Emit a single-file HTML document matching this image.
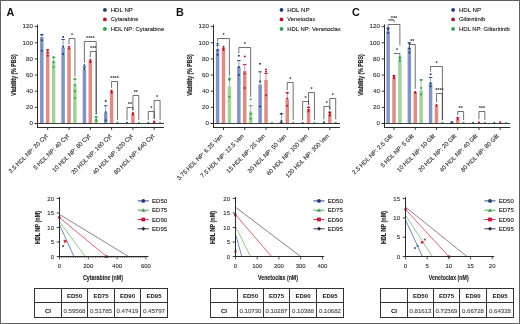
<!DOCTYPE html>
<html><head><meta charset="utf-8"><style>
html,body{margin:0;padding:0;background:#fff;}
body{width:520px;height:324px;overflow:hidden;}
svg{display:block;font-family:"Liberation Sans", sans-serif;will-change:transform;}
</style></head><body>
<svg width="520" height="324" viewBox="0 0 520 324">
<rect x="0" y="0" width="520" height="324" fill="#fff"/>
<text x="6.50" y="15.60" font-size="10.8" text-anchor="start" fill="#111" font-weight="bold">A</text>
<text x="16.20" y="75.00" font-size="6.6" text-anchor="middle" fill="#222" stroke="#222" stroke-width="0.15" font-weight="bold" transform="rotate(-90 16.20 75.00)" textLength="41.5" lengthAdjust="spacingAndGlyphs">Viability (% PBS)</text>
<line x1="37.50" y1="24.50" x2="37.50" y2="128.00" stroke="#2a2a2a" stroke-width="1.0"/>
<line x1="34.70" y1="123.50" x2="37.50" y2="123.50" stroke="#2a2a2a" stroke-width="0.9"/>
<text x="32.90" y="125.30" font-size="6.2" text-anchor="end" fill="#333" stroke="#333" stroke-width="0.12">0</text>
<line x1="34.70" y1="107.35" x2="37.50" y2="107.35" stroke="#2a2a2a" stroke-width="0.9"/>
<text x="32.90" y="109.15" font-size="6.2" text-anchor="end" fill="#333" stroke="#333" stroke-width="0.12">20</text>
<line x1="34.70" y1="91.20" x2="37.50" y2="91.20" stroke="#2a2a2a" stroke-width="0.9"/>
<text x="32.90" y="93.00" font-size="6.2" text-anchor="end" fill="#333" stroke="#333" stroke-width="0.12">40</text>
<line x1="34.70" y1="75.05" x2="37.50" y2="75.05" stroke="#2a2a2a" stroke-width="0.9"/>
<text x="32.90" y="76.85" font-size="6.2" text-anchor="end" fill="#333" stroke="#333" stroke-width="0.12">60</text>
<line x1="34.70" y1="58.90" x2="37.50" y2="58.90" stroke="#2a2a2a" stroke-width="0.9"/>
<text x="32.90" y="60.70" font-size="6.2" text-anchor="end" fill="#333" stroke="#333" stroke-width="0.12">80</text>
<line x1="34.70" y1="42.75" x2="37.50" y2="42.75" stroke="#2a2a2a" stroke-width="0.9"/>
<text x="32.90" y="44.55" font-size="6.2" text-anchor="end" fill="#333" stroke="#333" stroke-width="0.12">100</text>
<line x1="34.70" y1="26.60" x2="37.50" y2="26.60" stroke="#2a2a2a" stroke-width="0.9"/>
<text x="32.90" y="28.40" font-size="6.2" text-anchor="end" fill="#333" stroke="#333" stroke-width="0.12">120</text>
<rect x="40.05" y="37.10" width="3.50" height="86.40" fill="#8393c2"/>
<rect x="45.95" y="51.63" width="3.50" height="71.87" fill="#de8d84"/>
<rect x="51.85" y="60.52" width="3.50" height="62.98" fill="#a2d19a"/>
<line x1="41.80" y1="34.67" x2="41.80" y2="37.10" stroke="#4a5f95" stroke-width="0.6"/>
<line x1="40.05" y1="34.67" x2="43.55" y2="34.67" stroke="#1c3c78" stroke-width="0.9"/>
<circle cx="41.80" cy="34.67" r="1.0" fill="#1c3c78"/>
<circle cx="41.80" cy="40.33" r="1.0" fill="#1c3c78"/>
<circle cx="41.80" cy="50.83" r="1.0" fill="#1c3c78"/>
<line x1="47.70" y1="50.02" x2="47.70" y2="51.63" stroke="#b84a45" stroke-width="0.6"/>
<line x1="45.95" y1="50.02" x2="49.45" y2="50.02" stroke="#b3132b" stroke-width="0.9"/>
<circle cx="47.70" cy="50.02" r="1.0" fill="#b3132b"/>
<circle cx="47.70" cy="52.44" r="1.0" fill="#b3132b"/>
<circle cx="47.70" cy="55.67" r="1.0" fill="#b3132b"/>
<line x1="53.60" y1="57.28" x2="53.60" y2="60.52" stroke="#5a9e55" stroke-width="0.6"/>
<line x1="51.85" y1="57.28" x2="55.35" y2="57.28" stroke="#2f9e4a" stroke-width="0.9"/>
<circle cx="53.60" cy="57.28" r="1.0" fill="#2f9e4a"/>
<circle cx="53.60" cy="62.13" r="1.0" fill="#2f9e4a"/>
<circle cx="53.60" cy="66.97" r="1.0" fill="#2f9e4a"/>
<rect x="61.35" y="47.59" width="3.50" height="75.91" fill="#8393c2"/>
<rect x="67.25" y="47.59" width="3.50" height="75.91" fill="#de8d84"/>
<rect x="73.15" y="84.74" width="3.50" height="38.76" fill="#a2d19a"/>
<line x1="63.10" y1="39.52" x2="63.10" y2="47.59" stroke="#4a5f95" stroke-width="0.6"/>
<line x1="61.35" y1="39.52" x2="64.85" y2="39.52" stroke="#1c3c78" stroke-width="0.9"/>
<circle cx="63.10" cy="37.10" r="1.0" fill="#1c3c78"/>
<circle cx="63.10" cy="46.79" r="1.0" fill="#1c3c78"/>
<circle cx="63.10" cy="54.06" r="1.0" fill="#1c3c78"/>
<circle cx="69.00" cy="46.79" r="1.0" fill="#b3132b"/>
<circle cx="69.00" cy="48.40" r="1.0" fill="#b3132b"/>
<line x1="74.90" y1="79.09" x2="74.90" y2="84.74" stroke="#5a9e55" stroke-width="0.6"/>
<line x1="73.15" y1="79.09" x2="76.65" y2="79.09" stroke="#2f9e4a" stroke-width="0.9"/>
<circle cx="74.90" cy="79.09" r="1.0" fill="#2f9e4a"/>
<circle cx="74.90" cy="84.74" r="1.0" fill="#2f9e4a"/>
<circle cx="74.90" cy="91.20" r="1.0" fill="#2f9e4a"/>
<circle cx="74.90" cy="97.66" r="1.0" fill="#2f9e4a"/>
<rect x="82.65" y="70.20" width="3.50" height="53.30" fill="#8393c2"/>
<rect x="88.55" y="60.52" width="3.50" height="62.98" fill="#de8d84"/>
<rect x="94.45" y="119.46" width="3.50" height="4.04" fill="#a2d19a"/>
<line x1="84.40" y1="66.97" x2="84.40" y2="70.20" stroke="#4a5f95" stroke-width="0.6"/>
<line x1="82.65" y1="66.97" x2="86.15" y2="66.97" stroke="#1c3c78" stroke-width="0.9"/>
<circle cx="84.40" cy="65.36" r="1.0" fill="#1c3c78"/>
<circle cx="84.40" cy="68.59" r="1.0" fill="#1c3c78"/>
<circle cx="84.40" cy="69.40" r="1.0" fill="#1c3c78"/>
<circle cx="90.30" cy="59.71" r="1.0" fill="#b3132b"/>
<circle cx="90.30" cy="61.32" r="1.0" fill="#b3132b"/>
<circle cx="90.30" cy="62.13" r="1.0" fill="#b3132b"/>
<line x1="96.20" y1="117.04" x2="96.20" y2="119.46" stroke="#5a9e55" stroke-width="0.6"/>
<line x1="94.45" y1="117.04" x2="97.95" y2="117.04" stroke="#2f9e4a" stroke-width="0.9"/>
<circle cx="96.20" cy="117.04" r="1.0" fill="#2f9e4a"/>
<circle cx="96.20" cy="119.46" r="1.0" fill="#2f9e4a"/>
<circle cx="96.20" cy="121.08" r="1.0" fill="#2f9e4a"/>
<rect x="103.95" y="113.00" width="3.50" height="10.50" fill="#8393c2"/>
<rect x="109.85" y="91.20" width="3.50" height="32.30" fill="#de8d84"/>
<rect x="115.75" y="123.10" width="3.50" height="0.40" fill="#a2d19a"/>
<line x1="105.70" y1="105.73" x2="105.70" y2="113.00" stroke="#4a5f95" stroke-width="0.6"/>
<line x1="103.95" y1="105.73" x2="107.45" y2="105.73" stroke="#1c3c78" stroke-width="0.9"/>
<circle cx="105.70" cy="100.89" r="1.0" fill="#1c3c78"/>
<circle cx="105.70" cy="112.19" r="1.0" fill="#1c3c78"/>
<circle cx="105.70" cy="120.27" r="1.0" fill="#1c3c78"/>
<circle cx="111.60" cy="90.39" r="1.0" fill="#b3132b"/>
<circle cx="111.60" cy="92.01" r="1.0" fill="#b3132b"/>
<circle cx="111.60" cy="92.81" r="1.0" fill="#b3132b"/>
<circle cx="117.50" cy="122.69" r="1.0" fill="#2f9e4a"/>
<rect x="125.25" y="123.10" width="3.50" height="0.40" fill="#8393c2"/>
<rect x="131.15" y="113.81" width="3.50" height="9.69" fill="#de8d84"/>
<rect x="137.05" y="123.26" width="3.50" height="0.24" fill="#a2d19a"/>
<circle cx="127.00" cy="122.69" r="1.0" fill="#1c3c78"/>
<circle cx="132.90" cy="113.00" r="1.0" fill="#b3132b"/>
<circle cx="132.90" cy="113.81" r="1.0" fill="#b3132b"/>
<circle cx="132.90" cy="114.62" r="1.0" fill="#b3132b"/>
<circle cx="138.80" cy="123.10" r="1.0" fill="#2f9e4a"/>
<rect x="146.55" y="123.10" width="3.50" height="0.40" fill="#8393c2"/>
<rect x="152.45" y="122.29" width="3.50" height="1.21" fill="#de8d84"/>
<rect x="158.35" y="123.26" width="3.50" height="0.24" fill="#a2d19a"/>
<circle cx="148.30" cy="123.10" r="1.0" fill="#1c3c78"/>
<circle cx="154.20" cy="121.48" r="1.0" fill="#b3132b"/>
<circle cx="154.20" cy="122.29" r="1.0" fill="#b3132b"/>
<circle cx="160.10" cy="123.10" r="1.0" fill="#2f9e4a"/>
<line x1="34.70" y1="123.50" x2="164.00" y2="123.50" stroke="#2a2a2a" stroke-width="0.9"/>
<line x1="37.00" y1="127.50" x2="164.00" y2="127.50" stroke="#2a2a2a" stroke-width="1.0"/>
<line x1="47.70" y1="127.50" x2="47.70" y2="130.00" stroke="#2a2a2a" stroke-width="0.9"/>
<text x="48.10" y="136.50" font-size="6.0" text-anchor="end" fill="#333" stroke="#333" stroke-width="0.12" transform="rotate(-45 48.10 136.50)">2.5 HDL NP: 20 Cyt</text>
<line x1="69.00" y1="127.50" x2="69.00" y2="130.00" stroke="#2a2a2a" stroke-width="0.9"/>
<text x="69.40" y="136.50" font-size="6.0" text-anchor="end" fill="#333" stroke="#333" stroke-width="0.12" transform="rotate(-45 69.40 136.50)">5 HDL NP: 40 Cyt</text>
<line x1="90.30" y1="127.50" x2="90.30" y2="130.00" stroke="#2a2a2a" stroke-width="0.9"/>
<text x="90.70" y="136.50" font-size="6.0" text-anchor="end" fill="#333" stroke="#333" stroke-width="0.12" transform="rotate(-45 90.70 136.50)">10 HDL NP: 80 Cyt</text>
<line x1="111.60" y1="127.50" x2="111.60" y2="130.00" stroke="#2a2a2a" stroke-width="0.9"/>
<text x="112.00" y="136.50" font-size="6.0" text-anchor="end" fill="#333" stroke="#333" stroke-width="0.12" transform="rotate(-45 112.00 136.50)">20 HDL NP: 160 Cyt</text>
<line x1="132.90" y1="127.50" x2="132.90" y2="130.00" stroke="#2a2a2a" stroke-width="0.9"/>
<text x="133.30" y="136.50" font-size="6.0" text-anchor="end" fill="#333" stroke="#333" stroke-width="0.12" transform="rotate(-45 133.30 136.50)">40 HDL NP: 320 Cyt</text>
<line x1="154.20" y1="127.50" x2="154.20" y2="130.00" stroke="#2a2a2a" stroke-width="0.9"/>
<text x="154.60" y="136.50" font-size="6.0" text-anchor="end" fill="#333" stroke="#333" stroke-width="0.12" transform="rotate(-45 154.60 136.50)">80 HDL NP: 640 Cyt</text>
<path d="M69.00 44.29V38.50H74.90V76.59" fill="none" stroke="#333" stroke-width="0.7"/>
<text x="71.95" y="37.30" font-size="5.5" text-anchor="middle" fill="#333" font-weight="bold">*</text>
<path d="M84.40 62.86V41.50H96.20V114.54" fill="none" stroke="#333" stroke-width="0.7"/>
<text x="90.30" y="40.30" font-size="5.5" text-anchor="middle" fill="#333" font-weight="bold">****</text>
<path d="M90.30 57.21V51.50H96.20V114.54" fill="none" stroke="#333" stroke-width="0.7"/>
<text x="93.25" y="50.30" font-size="5.5" text-anchor="middle" fill="#333" font-weight="bold">***</text>
<path d="M111.60 87.89V81.50H117.50V120.19" fill="none" stroke="#333" stroke-width="0.7"/>
<text x="114.55" y="80.30" font-size="5.5" text-anchor="middle" fill="#333" font-weight="bold">****</text>
<path d="M127.00 120.19V107.50H132.90V110.50" fill="none" stroke="#333" stroke-width="0.7"/>
<text x="129.95" y="106.30" font-size="5.5" text-anchor="middle" fill="#333" font-weight="bold">**</text>
<path d="M132.90 110.50V95.50H138.80V120.19" fill="none" stroke="#333" stroke-width="0.7"/>
<text x="135.85" y="94.30" font-size="5.5" text-anchor="middle" fill="#333" font-weight="bold">**</text>
<path d="M148.30 120.19V111.50H154.20V118.98" fill="none" stroke="#333" stroke-width="0.7"/>
<text x="151.25" y="110.30" font-size="5.5" text-anchor="middle" fill="#333" font-weight="bold">*</text>
<path d="M154.20 118.98V100.50H160.10V120.19" fill="none" stroke="#333" stroke-width="0.7"/>
<text x="157.15" y="99.30" font-size="5.5" text-anchor="middle" fill="#333" font-weight="bold">*</text>
<circle cx="104.90" cy="9.90" r="1.9" fill="#1c3c78"/>
<text x="110.70" y="11.80" font-size="6.0" text-anchor="start" fill="#1a1a1a" stroke="#1a1a1a" stroke-width="0.12" textLength="22.2" lengthAdjust="spacingAndGlyphs">HDL NP</text>
<circle cx="104.90" cy="19.40" r="1.9" fill="#b3132b"/>
<text x="110.70" y="21.30" font-size="6.0" text-anchor="start" fill="#1a1a1a" stroke="#1a1a1a" stroke-width="0.12" textLength="27.7" lengthAdjust="spacingAndGlyphs">Cytarabine</text>
<circle cx="104.90" cy="28.90" r="1.9" fill="#2f9e4a"/>
<text x="110.70" y="30.80" font-size="6.0" text-anchor="start" fill="#1a1a1a" stroke="#1a1a1a" stroke-width="0.12" textLength="53.5" lengthAdjust="spacingAndGlyphs">HDL NP: Cytarabine</text>
<text x="175.90" y="15.60" font-size="10.8" text-anchor="start" fill="#111" font-weight="bold">B</text>
<text x="192.10" y="75.00" font-size="6.6" text-anchor="middle" fill="#222" stroke="#222" stroke-width="0.15" font-weight="bold" transform="rotate(-90 192.10 75.00)" textLength="41.5" lengthAdjust="spacingAndGlyphs">Viability (% PBS)</text>
<line x1="213.50" y1="24.50" x2="213.50" y2="128.00" stroke="#2a2a2a" stroke-width="1.0"/>
<line x1="210.70" y1="123.50" x2="213.50" y2="123.50" stroke="#2a2a2a" stroke-width="0.9"/>
<text x="208.90" y="125.30" font-size="6.2" text-anchor="end" fill="#333" stroke="#333" stroke-width="0.12">0</text>
<line x1="210.70" y1="107.35" x2="213.50" y2="107.35" stroke="#2a2a2a" stroke-width="0.9"/>
<text x="208.90" y="109.15" font-size="6.2" text-anchor="end" fill="#333" stroke="#333" stroke-width="0.12">20</text>
<line x1="210.70" y1="91.20" x2="213.50" y2="91.20" stroke="#2a2a2a" stroke-width="0.9"/>
<text x="208.90" y="93.00" font-size="6.2" text-anchor="end" fill="#333" stroke="#333" stroke-width="0.12">40</text>
<line x1="210.70" y1="75.05" x2="213.50" y2="75.05" stroke="#2a2a2a" stroke-width="0.9"/>
<text x="208.90" y="76.85" font-size="6.2" text-anchor="end" fill="#333" stroke="#333" stroke-width="0.12">60</text>
<line x1="210.70" y1="58.90" x2="213.50" y2="58.90" stroke="#2a2a2a" stroke-width="0.9"/>
<text x="208.90" y="60.70" font-size="6.2" text-anchor="end" fill="#333" stroke="#333" stroke-width="0.12">80</text>
<line x1="210.70" y1="42.75" x2="213.50" y2="42.75" stroke="#2a2a2a" stroke-width="0.9"/>
<text x="208.90" y="44.55" font-size="6.2" text-anchor="end" fill="#333" stroke="#333" stroke-width="0.12">100</text>
<line x1="210.70" y1="26.60" x2="213.50" y2="26.60" stroke="#2a2a2a" stroke-width="0.9"/>
<text x="208.90" y="28.40" font-size="6.2" text-anchor="end" fill="#333" stroke="#333" stroke-width="0.12">120</text>
<rect x="215.85" y="49.21" width="3.50" height="74.29" fill="#8393c2"/>
<rect x="221.75" y="47.59" width="3.50" height="75.91" fill="#de8d84"/>
<rect x="227.65" y="86.35" width="3.50" height="37.15" fill="#a2d19a"/>
<line x1="217.60" y1="45.17" x2="217.60" y2="49.21" stroke="#4a5f95" stroke-width="0.6"/>
<line x1="215.85" y1="45.17" x2="219.35" y2="45.17" stroke="#1c3c78" stroke-width="0.9"/>
<circle cx="217.60" cy="43.56" r="1.0" fill="#1c3c78"/>
<circle cx="217.60" cy="50.02" r="1.0" fill="#1c3c78"/>
<circle cx="217.60" cy="54.86" r="1.0" fill="#1c3c78"/>
<circle cx="223.50" cy="46.79" r="1.0" fill="#b3132b"/>
<circle cx="223.50" cy="48.40" r="1.0" fill="#b3132b"/>
<circle cx="223.50" cy="50.02" r="1.0" fill="#b3132b"/>
<line x1="229.40" y1="79.09" x2="229.40" y2="86.35" stroke="#5a9e55" stroke-width="0.6"/>
<line x1="227.65" y1="79.09" x2="231.15" y2="79.09" stroke="#2f9e4a" stroke-width="0.9"/>
<circle cx="229.40" cy="78.28" r="1.0" fill="#2f9e4a"/>
<circle cx="229.40" cy="79.90" r="1.0" fill="#2f9e4a"/>
<circle cx="229.40" cy="96.85" r="1.0" fill="#2f9e4a"/>
<rect x="237.11" y="66.97" width="3.50" height="56.53" fill="#8393c2"/>
<rect x="243.01" y="71.01" width="3.50" height="52.49" fill="#de8d84"/>
<rect x="248.91" y="111.39" width="3.50" height="12.11" fill="#a2d19a"/>
<line x1="238.86" y1="60.52" x2="238.86" y2="66.97" stroke="#4a5f95" stroke-width="0.6"/>
<line x1="237.11" y1="60.52" x2="240.61" y2="60.52" stroke="#1c3c78" stroke-width="0.9"/>
<circle cx="238.86" cy="55.67" r="1.0" fill="#1c3c78"/>
<circle cx="238.86" cy="66.97" r="1.0" fill="#1c3c78"/>
<circle cx="238.86" cy="75.05" r="1.0" fill="#1c3c78"/>
<line x1="244.76" y1="64.55" x2="244.76" y2="71.01" stroke="#b84a45" stroke-width="0.6"/>
<line x1="243.01" y1="64.55" x2="246.51" y2="64.55" stroke="#b3132b" stroke-width="0.9"/>
<circle cx="244.76" cy="56.48" r="1.0" fill="#b3132b"/>
<circle cx="244.76" cy="73.44" r="1.0" fill="#b3132b"/>
<circle cx="244.76" cy="87.97" r="1.0" fill="#b3132b"/>
<line x1="250.66" y1="105.73" x2="250.66" y2="111.39" stroke="#5a9e55" stroke-width="0.6"/>
<line x1="248.91" y1="105.73" x2="252.41" y2="105.73" stroke="#2f9e4a" stroke-width="0.9"/>
<circle cx="250.66" cy="99.28" r="1.0" fill="#2f9e4a"/>
<circle cx="250.66" cy="113.81" r="1.0" fill="#2f9e4a"/>
<circle cx="250.66" cy="118.66" r="1.0" fill="#2f9e4a"/>
<rect x="258.37" y="84.74" width="3.50" height="38.76" fill="#8393c2"/>
<rect x="264.27" y="79.90" width="3.50" height="43.60" fill="#de8d84"/>
<rect x="270.17" y="123.26" width="3.50" height="0.24" fill="#a2d19a"/>
<line x1="260.12" y1="71.82" x2="260.12" y2="84.74" stroke="#4a5f95" stroke-width="0.6"/>
<line x1="258.37" y1="71.82" x2="261.87" y2="71.82" stroke="#1c3c78" stroke-width="0.9"/>
<circle cx="260.12" cy="63.74" r="1.0" fill="#1c3c78"/>
<circle cx="260.12" cy="81.51" r="1.0" fill="#1c3c78"/>
<circle cx="260.12" cy="106.54" r="1.0" fill="#1c3c78"/>
<line x1="266.02" y1="73.44" x2="266.02" y2="79.90" stroke="#b84a45" stroke-width="0.6"/>
<line x1="264.27" y1="73.44" x2="267.77" y2="73.44" stroke="#b3132b" stroke-width="0.9"/>
<circle cx="266.02" cy="69.40" r="1.0" fill="#b3132b"/>
<circle cx="266.02" cy="71.82" r="1.0" fill="#b3132b"/>
<circle cx="266.02" cy="95.24" r="1.0" fill="#b3132b"/>
<circle cx="271.92" cy="123.10" r="1.0" fill="#2f9e4a"/>
<rect x="279.63" y="121.89" width="3.50" height="1.61" fill="#8393c2"/>
<rect x="285.53" y="99.28" width="3.50" height="24.22" fill="#de8d84"/>
<rect x="291.43" y="123.26" width="3.50" height="0.24" fill="#a2d19a"/>
<line x1="281.38" y1="113.81" x2="281.38" y2="121.89" stroke="#4a5f95" stroke-width="0.6"/>
<line x1="279.63" y1="113.81" x2="283.13" y2="113.81" stroke="#1c3c78" stroke-width="0.9"/>
<circle cx="281.38" cy="113.81" r="1.0" fill="#1c3c78"/>
<circle cx="281.38" cy="121.08" r="1.0" fill="#1c3c78"/>
<circle cx="281.38" cy="122.69" r="1.0" fill="#1c3c78"/>
<line x1="287.28" y1="92.81" x2="287.28" y2="99.28" stroke="#b84a45" stroke-width="0.6"/>
<line x1="285.53" y1="92.81" x2="289.03" y2="92.81" stroke="#b3132b" stroke-width="0.9"/>
<circle cx="287.28" cy="92.81" r="1.0" fill="#b3132b"/>
<circle cx="287.28" cy="98.47" r="1.0" fill="#b3132b"/>
<circle cx="287.28" cy="105.73" r="1.0" fill="#b3132b"/>
<circle cx="293.18" cy="123.10" r="1.0" fill="#2f9e4a"/>
<rect x="300.89" y="123.10" width="3.50" height="0.40" fill="#8393c2"/>
<rect x="306.79" y="108.97" width="3.50" height="14.53" fill="#de8d84"/>
<rect x="312.69" y="123.26" width="3.50" height="0.24" fill="#a2d19a"/>
<circle cx="302.64" cy="123.10" r="1.0" fill="#1c3c78"/>
<line x1="308.54" y1="107.35" x2="308.54" y2="108.97" stroke="#b84a45" stroke-width="0.6"/>
<line x1="306.79" y1="107.35" x2="310.29" y2="107.35" stroke="#b3132b" stroke-width="0.9"/>
<circle cx="308.54" cy="107.35" r="1.0" fill="#b3132b"/>
<circle cx="308.54" cy="109.77" r="1.0" fill="#b3132b"/>
<circle cx="308.54" cy="111.39" r="1.0" fill="#b3132b"/>
<circle cx="314.44" cy="123.10" r="1.0" fill="#2f9e4a"/>
<rect x="322.15" y="122.69" width="3.50" height="0.81" fill="#8393c2"/>
<rect x="328.05" y="113.81" width="3.50" height="9.69" fill="#de8d84"/>
<rect x="333.95" y="122.69" width="3.50" height="0.81" fill="#a2d19a"/>
<circle cx="323.90" cy="122.29" r="1.0" fill="#1c3c78"/>
<line x1="329.80" y1="112.19" x2="329.80" y2="113.81" stroke="#b84a45" stroke-width="0.6"/>
<line x1="328.05" y1="112.19" x2="331.55" y2="112.19" stroke="#b3132b" stroke-width="0.9"/>
<circle cx="329.80" cy="112.19" r="1.0" fill="#b3132b"/>
<circle cx="329.80" cy="113.81" r="1.0" fill="#b3132b"/>
<circle cx="329.80" cy="115.42" r="1.0" fill="#b3132b"/>
<circle cx="335.70" cy="122.69" r="1.0" fill="#2f9e4a"/>
<line x1="210.70" y1="123.50" x2="340.00" y2="123.50" stroke="#2a2a2a" stroke-width="0.9"/>
<line x1="213.00" y1="127.50" x2="340.00" y2="127.50" stroke="#2a2a2a" stroke-width="1.0"/>
<line x1="223.50" y1="127.50" x2="223.50" y2="130.00" stroke="#2a2a2a" stroke-width="0.9"/>
<text x="223.20" y="136.50" font-size="6.0" text-anchor="end" fill="#333" stroke="#333" stroke-width="0.12" transform="rotate(-45 223.20 136.50)">3.75 HDL NP: 6.25 Ven</text>
<line x1="244.76" y1="127.50" x2="244.76" y2="130.00" stroke="#2a2a2a" stroke-width="0.9"/>
<text x="244.46" y="136.50" font-size="6.0" text-anchor="end" fill="#333" stroke="#333" stroke-width="0.12" transform="rotate(-45 244.46 136.50)">7.5 HDL NP: 12.5 Ven</text>
<line x1="266.02" y1="127.50" x2="266.02" y2="130.00" stroke="#2a2a2a" stroke-width="0.9"/>
<text x="265.72" y="136.50" font-size="6.0" text-anchor="end" fill="#333" stroke="#333" stroke-width="0.12" transform="rotate(-45 265.72 136.50)">15 HDL NP: 25 Ven</text>
<line x1="287.28" y1="127.50" x2="287.28" y2="130.00" stroke="#2a2a2a" stroke-width="0.9"/>
<text x="286.98" y="136.50" font-size="6.0" text-anchor="end" fill="#333" stroke="#333" stroke-width="0.12" transform="rotate(-45 286.98 136.50)">30 HDL NP: 50 Ven</text>
<line x1="308.54" y1="127.50" x2="308.54" y2="130.00" stroke="#2a2a2a" stroke-width="0.9"/>
<text x="308.24" y="136.50" font-size="6.0" text-anchor="end" fill="#333" stroke="#333" stroke-width="0.12" transform="rotate(-45 308.24 136.50)">60 HDL NP: 100 Ven</text>
<line x1="329.80" y1="127.50" x2="329.80" y2="130.00" stroke="#2a2a2a" stroke-width="0.9"/>
<text x="329.50" y="136.50" font-size="6.0" text-anchor="end" fill="#333" stroke="#333" stroke-width="0.12" transform="rotate(-45 329.50 136.50)">120 HDL NP: 200 Ven</text>
<path d="M217.60 41.50V38.50H229.40V75.78" fill="none" stroke="#333" stroke-width="0.7"/>
<text x="223.50" y="37.30" font-size="5.5" text-anchor="middle" fill="#333" font-weight="bold">*</text>
<path d="M238.86 53.17V47.50H250.66V96.78" fill="none" stroke="#333" stroke-width="0.7"/>
<text x="244.76" y="46.30" font-size="5.5" text-anchor="middle" fill="#333" font-weight="bold">*</text>
<path d="M287.28 90.31V82.50H293.18V120.19" fill="none" stroke="#333" stroke-width="0.7"/>
<text x="290.23" y="81.30" font-size="5.5" text-anchor="middle" fill="#333" font-weight="bold">*</text>
<path d="M302.64 120.19V101.50H308.54V104.85" fill="none" stroke="#333" stroke-width="0.7"/>
<text x="305.59" y="100.30" font-size="5.5" text-anchor="middle" fill="#333" font-weight="bold">*</text>
<path d="M308.54 104.85V92.50H314.44V120.19" fill="none" stroke="#333" stroke-width="0.7"/>
<text x="311.49" y="91.30" font-size="5.5" text-anchor="middle" fill="#333" font-weight="bold">*</text>
<path d="M323.90 119.39V106.50H329.80V109.69" fill="none" stroke="#333" stroke-width="0.7"/>
<text x="326.85" y="105.30" font-size="5.5" text-anchor="middle" fill="#333" font-weight="bold">*</text>
<path d="M329.80 109.69V98.50H335.70V119.39" fill="none" stroke="#333" stroke-width="0.7"/>
<text x="332.75" y="97.30" font-size="5.5" text-anchor="middle" fill="#333" font-weight="bold">*</text>
<circle cx="281.50" cy="9.90" r="1.9" fill="#1c3c78"/>
<text x="287.30" y="11.80" font-size="6.0" text-anchor="start" fill="#1a1a1a" stroke="#1a1a1a" stroke-width="0.12" textLength="22.2" lengthAdjust="spacingAndGlyphs">HDL NP</text>
<circle cx="281.50" cy="19.40" r="1.9" fill="#b3132b"/>
<text x="287.30" y="21.30" font-size="6.0" text-anchor="start" fill="#1a1a1a" stroke="#1a1a1a" stroke-width="0.12" textLength="28.1" lengthAdjust="spacingAndGlyphs">Venetoclax</text>
<circle cx="281.50" cy="28.90" r="1.9" fill="#2f9e4a"/>
<text x="287.30" y="30.80" font-size="6.0" text-anchor="start" fill="#1a1a1a" stroke="#1a1a1a" stroke-width="0.12" textLength="53.4" lengthAdjust="spacingAndGlyphs">HDL NP: Venetoclax</text>
<text x="352.00" y="15.60" font-size="10.8" text-anchor="start" fill="#111" font-weight="bold">C</text>
<text x="363.10" y="75.00" font-size="6.6" text-anchor="middle" fill="#222" stroke="#222" stroke-width="0.15" font-weight="bold" transform="rotate(-90 363.10 75.00)" textLength="41.5" lengthAdjust="spacingAndGlyphs">Viability (% PBS)</text>
<line x1="384.50" y1="24.50" x2="384.50" y2="128.00" stroke="#2a2a2a" stroke-width="1.0"/>
<line x1="381.70" y1="123.50" x2="384.50" y2="123.50" stroke="#2a2a2a" stroke-width="0.9"/>
<text x="379.90" y="125.30" font-size="6.2" text-anchor="end" fill="#333" stroke="#333" stroke-width="0.12">0</text>
<line x1="381.70" y1="107.35" x2="384.50" y2="107.35" stroke="#2a2a2a" stroke-width="0.9"/>
<text x="379.90" y="109.15" font-size="6.2" text-anchor="end" fill="#333" stroke="#333" stroke-width="0.12">20</text>
<line x1="381.70" y1="91.20" x2="384.50" y2="91.20" stroke="#2a2a2a" stroke-width="0.9"/>
<text x="379.90" y="93.00" font-size="6.2" text-anchor="end" fill="#333" stroke="#333" stroke-width="0.12">40</text>
<line x1="381.70" y1="75.05" x2="384.50" y2="75.05" stroke="#2a2a2a" stroke-width="0.9"/>
<text x="379.90" y="76.85" font-size="6.2" text-anchor="end" fill="#333" stroke="#333" stroke-width="0.12">60</text>
<line x1="381.70" y1="58.90" x2="384.50" y2="58.90" stroke="#2a2a2a" stroke-width="0.9"/>
<text x="379.90" y="60.70" font-size="6.2" text-anchor="end" fill="#333" stroke="#333" stroke-width="0.12">80</text>
<line x1="381.70" y1="42.75" x2="384.50" y2="42.75" stroke="#2a2a2a" stroke-width="0.9"/>
<text x="379.90" y="44.55" font-size="6.2" text-anchor="end" fill="#333" stroke="#333" stroke-width="0.12">100</text>
<line x1="381.70" y1="26.60" x2="384.50" y2="26.60" stroke="#2a2a2a" stroke-width="0.9"/>
<text x="379.90" y="28.40" font-size="6.2" text-anchor="end" fill="#333" stroke="#333" stroke-width="0.12">120</text>
<rect x="386.35" y="30.64" width="3.50" height="92.86" fill="#8393c2"/>
<rect x="392.25" y="77.47" width="3.50" height="46.03" fill="#de8d84"/>
<rect x="398.15" y="59.71" width="3.50" height="63.79" fill="#a2d19a"/>
<line x1="388.10" y1="28.22" x2="388.10" y2="30.64" stroke="#4a5f95" stroke-width="0.6"/>
<line x1="386.35" y1="28.22" x2="389.85" y2="28.22" stroke="#1c3c78" stroke-width="0.9"/>
<circle cx="388.10" cy="28.22" r="1.0" fill="#1c3c78"/>
<circle cx="388.10" cy="29.83" r="1.0" fill="#1c3c78"/>
<circle cx="388.10" cy="33.06" r="1.0" fill="#1c3c78"/>
<line x1="394.00" y1="75.86" x2="394.00" y2="77.47" stroke="#b84a45" stroke-width="0.6"/>
<line x1="392.25" y1="75.86" x2="395.75" y2="75.86" stroke="#b3132b" stroke-width="0.9"/>
<circle cx="394.00" cy="75.86" r="1.0" fill="#b3132b"/>
<circle cx="394.00" cy="77.47" r="1.0" fill="#b3132b"/>
<circle cx="394.00" cy="78.28" r="1.0" fill="#b3132b"/>
<line x1="399.90" y1="57.28" x2="399.90" y2="59.71" stroke="#5a9e55" stroke-width="0.6"/>
<line x1="398.15" y1="57.28" x2="401.65" y2="57.28" stroke="#2f9e4a" stroke-width="0.9"/>
<circle cx="399.90" cy="57.28" r="1.0" fill="#2f9e4a"/>
<circle cx="399.90" cy="58.90" r="1.0" fill="#2f9e4a"/>
<circle cx="399.90" cy="61.32" r="1.0" fill="#2f9e4a"/>
<rect x="407.59" y="47.59" width="3.50" height="75.91" fill="#8393c2"/>
<rect x="413.49" y="92.01" width="3.50" height="31.49" fill="#de8d84"/>
<rect x="419.39" y="90.39" width="3.50" height="33.11" fill="#a2d19a"/>
<line x1="409.34" y1="42.75" x2="409.34" y2="47.59" stroke="#4a5f95" stroke-width="0.6"/>
<line x1="407.59" y1="42.75" x2="411.09" y2="42.75" stroke="#1c3c78" stroke-width="0.9"/>
<circle cx="409.34" cy="43.56" r="1.0" fill="#1c3c78"/>
<circle cx="409.34" cy="48.40" r="1.0" fill="#1c3c78"/>
<circle cx="409.34" cy="52.44" r="1.0" fill="#1c3c78"/>
<circle cx="415.24" cy="92.01" r="1.0" fill="#b3132b"/>
<circle cx="415.24" cy="92.81" r="1.0" fill="#b3132b"/>
<line x1="421.14" y1="79.90" x2="421.14" y2="90.39" stroke="#5a9e55" stroke-width="0.6"/>
<line x1="419.39" y1="79.90" x2="422.89" y2="79.90" stroke="#2f9e4a" stroke-width="0.9"/>
<circle cx="421.14" cy="79.90" r="1.0" fill="#2f9e4a"/>
<circle cx="421.14" cy="87.97" r="1.0" fill="#2f9e4a"/>
<circle cx="421.14" cy="94.43" r="1.0" fill="#2f9e4a"/>
<rect x="428.83" y="83.12" width="3.50" height="40.38" fill="#8393c2"/>
<rect x="434.73" y="105.73" width="3.50" height="17.77" fill="#de8d84"/>
<rect x="440.63" y="123.26" width="3.50" height="0.24" fill="#a2d19a"/>
<line x1="430.58" y1="77.47" x2="430.58" y2="83.12" stroke="#4a5f95" stroke-width="0.6"/>
<line x1="428.83" y1="77.47" x2="432.33" y2="77.47" stroke="#1c3c78" stroke-width="0.9"/>
<circle cx="430.58" cy="74.24" r="1.0" fill="#1c3c78"/>
<circle cx="430.58" cy="83.12" r="1.0" fill="#1c3c78"/>
<circle cx="430.58" cy="86.35" r="1.0" fill="#1c3c78"/>
<circle cx="436.48" cy="104.93" r="1.0" fill="#b3132b"/>
<circle cx="436.48" cy="105.73" r="1.0" fill="#b3132b"/>
<circle cx="442.38" cy="123.10" r="1.0" fill="#2f9e4a"/>
<rect x="450.07" y="121.89" width="3.50" height="1.61" fill="#8393c2"/>
<rect x="455.97" y="119.46" width="3.50" height="4.04" fill="#de8d84"/>
<rect x="461.87" y="123.26" width="3.50" height="0.24" fill="#a2d19a"/>
<circle cx="451.82" cy="121.89" r="1.0" fill="#1c3c78"/>
<line x1="457.72" y1="117.85" x2="457.72" y2="119.46" stroke="#b84a45" stroke-width="0.6"/>
<line x1="455.97" y1="117.85" x2="459.47" y2="117.85" stroke="#b3132b" stroke-width="0.9"/>
<circle cx="457.72" cy="117.85" r="1.0" fill="#b3132b"/>
<circle cx="457.72" cy="119.46" r="1.0" fill="#b3132b"/>
<circle cx="463.62" cy="123.10" r="1.0" fill="#2f9e4a"/>
<rect x="471.31" y="123.10" width="3.50" height="0.40" fill="#8393c2"/>
<rect x="477.21" y="122.69" width="3.50" height="0.81" fill="#de8d84"/>
<rect x="483.11" y="123.26" width="3.50" height="0.24" fill="#a2d19a"/>
<circle cx="473.06" cy="123.10" r="1.0" fill="#1c3c78"/>
<circle cx="478.96" cy="122.29" r="1.0" fill="#b3132b"/>
<circle cx="484.86" cy="123.10" r="1.0" fill="#2f9e4a"/>
<rect x="492.55" y="123.10" width="3.50" height="0.40" fill="#8393c2"/>
<rect x="498.45" y="122.69" width="3.50" height="0.81" fill="#de8d84"/>
<rect x="504.35" y="123.10" width="3.50" height="0.40" fill="#a2d19a"/>
<circle cx="494.30" cy="123.10" r="1.0" fill="#1c3c78"/>
<circle cx="500.20" cy="122.29" r="1.0" fill="#b3132b"/>
<circle cx="506.10" cy="123.10" r="1.0" fill="#2f9e4a"/>
<line x1="381.70" y1="123.50" x2="510.30" y2="123.50" stroke="#2a2a2a" stroke-width="0.9"/>
<line x1="384.00" y1="127.50" x2="510.30" y2="127.50" stroke="#2a2a2a" stroke-width="1.0"/>
<line x1="394.00" y1="127.50" x2="394.00" y2="130.00" stroke="#2a2a2a" stroke-width="0.9"/>
<text x="392.90" y="136.50" font-size="6.0" text-anchor="end" fill="#333" stroke="#333" stroke-width="0.12" transform="rotate(-45 392.90 136.50)">2.5 HDL NP: 2.5 Gilt</text>
<line x1="415.24" y1="127.50" x2="415.24" y2="130.00" stroke="#2a2a2a" stroke-width="0.9"/>
<text x="414.14" y="136.50" font-size="6.0" text-anchor="end" fill="#333" stroke="#333" stroke-width="0.12" transform="rotate(-45 414.14 136.50)">5 HDL NP: 5 Gilt</text>
<line x1="436.48" y1="127.50" x2="436.48" y2="130.00" stroke="#2a2a2a" stroke-width="0.9"/>
<text x="435.38" y="136.50" font-size="6.0" text-anchor="end" fill="#333" stroke="#333" stroke-width="0.12" transform="rotate(-45 435.38 136.50)">10 HDL NP: 10 Gilt</text>
<line x1="457.72" y1="127.50" x2="457.72" y2="130.00" stroke="#2a2a2a" stroke-width="0.9"/>
<text x="456.62" y="136.50" font-size="6.0" text-anchor="end" fill="#333" stroke="#333" stroke-width="0.12" transform="rotate(-45 456.62 136.50)">20 HDL NP: 20 Gilt</text>
<line x1="478.96" y1="127.50" x2="478.96" y2="130.00" stroke="#2a2a2a" stroke-width="0.9"/>
<text x="477.86" y="136.50" font-size="6.0" text-anchor="end" fill="#333" stroke="#333" stroke-width="0.12" transform="rotate(-45 477.86 136.50)">40 HDL NP: 40 Gilt</text>
<line x1="500.20" y1="127.50" x2="500.20" y2="130.00" stroke="#2a2a2a" stroke-width="0.9"/>
<text x="499.10" y="136.50" font-size="6.0" text-anchor="end" fill="#333" stroke="#333" stroke-width="0.12" transform="rotate(-45 499.10 136.50)">80 HDL NP: 80 Gilt</text>
<path d="M388.10 27.50V24.50H399.90V45.50" fill="none" stroke="#333" stroke-width="0.7"/>
<text x="394.00" y="19.50" font-size="5.5" text-anchor="middle" fill="#333" font-weight="bold">***</text>
<path d="M394.00 54.10V53.50H399.90V56.50" fill="none" stroke="#333" stroke-width="0.7"/>
<text x="396.95" y="52.30" font-size="5.5" text-anchor="middle" fill="#333" font-weight="bold">*</text>
<path d="M409.34 47.50V44.50H415.24V88.70" fill="none" stroke="#333" stroke-width="0.7"/>
<text x="412.29" y="43.30" font-size="5.5" text-anchor="middle" fill="#333" font-weight="bold">**</text>
<path d="M430.58 71.74V66.50H442.38V120.19" fill="none" stroke="#333" stroke-width="0.7"/>
<text x="436.48" y="65.30" font-size="5.5" text-anchor="middle" fill="#333" font-weight="bold">*</text>
<path d="M436.48 102.43V93.50H442.38V120.19" fill="none" stroke="#333" stroke-width="0.7"/>
<text x="439.43" y="92.30" font-size="5.5" text-anchor="middle" fill="#333" font-weight="bold">****</text>
<path d="M457.72 115.35V111.50H463.62V120.19" fill="none" stroke="#333" stroke-width="0.7"/>
<text x="460.67" y="110.30" font-size="5.5" text-anchor="middle" fill="#333" font-weight="bold">**</text>
<path d="M478.96 119.39V111.50H484.86V120.19" fill="none" stroke="#333" stroke-width="0.7"/>
<text x="481.91" y="110.30" font-size="5.5" text-anchor="middle" fill="#333" font-weight="bold">***</text>
<path d="M388.2 19.9H393.6L394.4 21.7" fill="none" stroke="#333" stroke-width="1.0"/>
<circle cx="453.10" cy="9.90" r="1.9" fill="#1c3c78"/>
<text x="458.90" y="11.80" font-size="6.0" text-anchor="start" fill="#1a1a1a" stroke="#1a1a1a" stroke-width="0.12" textLength="22.2" lengthAdjust="spacingAndGlyphs">HDL NP</text>
<circle cx="453.10" cy="19.40" r="1.9" fill="#b3132b"/>
<text x="458.90" y="21.30" font-size="6.0" text-anchor="start" fill="#1a1a1a" stroke="#1a1a1a" stroke-width="0.12" textLength="26.5" lengthAdjust="spacingAndGlyphs">Gilteritinib</text>
<circle cx="453.10" cy="28.90" r="1.9" fill="#2f9e4a"/>
<text x="458.90" y="30.80" font-size="6.0" text-anchor="start" fill="#1a1a1a" stroke="#1a1a1a" stroke-width="0.12" textLength="51.0" lengthAdjust="spacingAndGlyphs">HDL NP: Gilteritinib</text>
<line x1="59.50" y1="224.60" x2="73.90" y2="256.50" stroke="#3f62a0" stroke-width="0.75"/>
<line x1="59.50" y1="221.70" x2="85.42" y2="256.50" stroke="#6fb86f" stroke-width="0.75"/>
<line x1="59.50" y1="217.64" x2="106.73" y2="256.50" stroke="#cc3646" stroke-width="0.75"/>
<line x1="59.50" y1="214.45" x2="128.62" y2="256.50" stroke="#6a5480" stroke-width="0.75"/>
<circle cx="64.60" cy="240.80" r="1.1" fill="#cc3646"/>
<circle cx="65.60" cy="241.50" r="1.1" fill="#cc3646"/>
<circle cx="63.10" cy="246.20" r="1.1" fill="#6a5480"/>
<rect x="58.10" y="216.20" width="2.60" height="2.60" fill="#cc3646"/>
<rect x="105.30" y="255.40" width="2.60" height="2.60" fill="#cc3646"/>
<line x1="59.50" y1="197.00" x2="59.50" y2="257.00" stroke="#2a2a2a" stroke-width="1.0"/>
<line x1="59.00" y1="256.50" x2="148.50" y2="256.50" stroke="#2a2a2a" stroke-width="1.0"/>
<line x1="64.20" y1="242.90" x2="66.20" y2="240.20" stroke="#cc3646" stroke-width="1.3"/>
<line x1="56.70" y1="256.50" x2="59.50" y2="256.50" stroke="#2a2a2a" stroke-width="0.9"/>
<text x="54.00" y="258.60" font-size="6.0" text-anchor="end" fill="#333" stroke="#333" stroke-width="0.12">0</text>
<line x1="56.70" y1="242.00" x2="59.50" y2="242.00" stroke="#2a2a2a" stroke-width="0.9"/>
<text x="54.00" y="244.10" font-size="6.0" text-anchor="end" fill="#333" stroke="#333" stroke-width="0.12">5</text>
<line x1="56.70" y1="227.50" x2="59.50" y2="227.50" stroke="#2a2a2a" stroke-width="0.9"/>
<text x="54.00" y="229.60" font-size="6.0" text-anchor="end" fill="#333" stroke="#333" stroke-width="0.12">10</text>
<line x1="56.70" y1="213.00" x2="59.50" y2="213.00" stroke="#2a2a2a" stroke-width="0.9"/>
<text x="54.00" y="215.10" font-size="6.0" text-anchor="end" fill="#333" stroke="#333" stroke-width="0.12">15</text>
<line x1="56.70" y1="198.50" x2="59.50" y2="198.50" stroke="#2a2a2a" stroke-width="0.9"/>
<text x="54.00" y="200.60" font-size="6.0" text-anchor="end" fill="#333" stroke="#333" stroke-width="0.12">20</text>
<line x1="59.50" y1="256.50" x2="59.50" y2="259.40" stroke="#2a2a2a" stroke-width="0.8"/>
<text x="59.50" y="267.80" font-size="6.0" text-anchor="middle" fill="#333" stroke="#333" stroke-width="0.12">0</text>
<line x1="61.30" y1="256.50" x2="61.30" y2="258.00" stroke="#2a2a2a" stroke-width="0.6"/>
<line x1="63.10" y1="256.50" x2="63.10" y2="258.00" stroke="#2a2a2a" stroke-width="0.6"/>
<line x1="64.90" y1="256.50" x2="64.90" y2="258.00" stroke="#2a2a2a" stroke-width="0.6"/>
<line x1="66.70" y1="256.50" x2="66.70" y2="258.00" stroke="#2a2a2a" stroke-width="0.6"/>
<line x1="68.50" y1="256.50" x2="68.50" y2="258.00" stroke="#2a2a2a" stroke-width="0.6"/>
<line x1="70.30" y1="256.50" x2="70.30" y2="258.00" stroke="#2a2a2a" stroke-width="0.6"/>
<line x1="72.10" y1="256.50" x2="72.10" y2="258.00" stroke="#2a2a2a" stroke-width="0.6"/>
<line x1="73.90" y1="256.50" x2="73.90" y2="258.00" stroke="#2a2a2a" stroke-width="0.6"/>
<line x1="75.70" y1="256.50" x2="75.70" y2="258.00" stroke="#2a2a2a" stroke-width="0.6"/>
<line x1="77.50" y1="256.50" x2="77.50" y2="258.00" stroke="#2a2a2a" stroke-width="0.6"/>
<line x1="79.30" y1="256.50" x2="79.30" y2="258.00" stroke="#2a2a2a" stroke-width="0.6"/>
<line x1="81.10" y1="256.50" x2="81.10" y2="258.00" stroke="#2a2a2a" stroke-width="0.6"/>
<line x1="82.90" y1="256.50" x2="82.90" y2="258.00" stroke="#2a2a2a" stroke-width="0.6"/>
<line x1="84.70" y1="256.50" x2="84.70" y2="258.00" stroke="#2a2a2a" stroke-width="0.6"/>
<line x1="86.50" y1="256.50" x2="86.50" y2="258.00" stroke="#2a2a2a" stroke-width="0.6"/>
<line x1="88.30" y1="256.50" x2="88.30" y2="259.40" stroke="#2a2a2a" stroke-width="0.8"/>
<text x="88.30" y="267.80" font-size="6.0" text-anchor="middle" fill="#333" stroke="#333" stroke-width="0.12">200</text>
<line x1="90.10" y1="256.50" x2="90.10" y2="258.00" stroke="#2a2a2a" stroke-width="0.6"/>
<line x1="91.90" y1="256.50" x2="91.90" y2="258.00" stroke="#2a2a2a" stroke-width="0.6"/>
<line x1="93.70" y1="256.50" x2="93.70" y2="258.00" stroke="#2a2a2a" stroke-width="0.6"/>
<line x1="95.50" y1="256.50" x2="95.50" y2="258.00" stroke="#2a2a2a" stroke-width="0.6"/>
<line x1="97.30" y1="256.50" x2="97.30" y2="258.00" stroke="#2a2a2a" stroke-width="0.6"/>
<line x1="99.10" y1="256.50" x2="99.10" y2="258.00" stroke="#2a2a2a" stroke-width="0.6"/>
<line x1="100.90" y1="256.50" x2="100.90" y2="258.00" stroke="#2a2a2a" stroke-width="0.6"/>
<line x1="102.70" y1="256.50" x2="102.70" y2="258.00" stroke="#2a2a2a" stroke-width="0.6"/>
<line x1="104.50" y1="256.50" x2="104.50" y2="258.00" stroke="#2a2a2a" stroke-width="0.6"/>
<line x1="106.30" y1="256.50" x2="106.30" y2="258.00" stroke="#2a2a2a" stroke-width="0.6"/>
<line x1="108.10" y1="256.50" x2="108.10" y2="258.00" stroke="#2a2a2a" stroke-width="0.6"/>
<line x1="109.90" y1="256.50" x2="109.90" y2="258.00" stroke="#2a2a2a" stroke-width="0.6"/>
<line x1="111.70" y1="256.50" x2="111.70" y2="258.00" stroke="#2a2a2a" stroke-width="0.6"/>
<line x1="113.50" y1="256.50" x2="113.50" y2="258.00" stroke="#2a2a2a" stroke-width="0.6"/>
<line x1="115.30" y1="256.50" x2="115.30" y2="258.00" stroke="#2a2a2a" stroke-width="0.6"/>
<line x1="117.10" y1="256.50" x2="117.10" y2="259.40" stroke="#2a2a2a" stroke-width="0.8"/>
<text x="117.10" y="267.80" font-size="6.0" text-anchor="middle" fill="#333" stroke="#333" stroke-width="0.12">400</text>
<line x1="118.90" y1="256.50" x2="118.90" y2="258.00" stroke="#2a2a2a" stroke-width="0.6"/>
<line x1="120.70" y1="256.50" x2="120.70" y2="258.00" stroke="#2a2a2a" stroke-width="0.6"/>
<line x1="122.50" y1="256.50" x2="122.50" y2="258.00" stroke="#2a2a2a" stroke-width="0.6"/>
<line x1="124.30" y1="256.50" x2="124.30" y2="258.00" stroke="#2a2a2a" stroke-width="0.6"/>
<line x1="126.10" y1="256.50" x2="126.10" y2="258.00" stroke="#2a2a2a" stroke-width="0.6"/>
<line x1="127.90" y1="256.50" x2="127.90" y2="258.00" stroke="#2a2a2a" stroke-width="0.6"/>
<line x1="129.70" y1="256.50" x2="129.70" y2="258.00" stroke="#2a2a2a" stroke-width="0.6"/>
<line x1="131.50" y1="256.50" x2="131.50" y2="258.00" stroke="#2a2a2a" stroke-width="0.6"/>
<line x1="133.30" y1="256.50" x2="133.30" y2="258.00" stroke="#2a2a2a" stroke-width="0.6"/>
<line x1="135.10" y1="256.50" x2="135.10" y2="258.00" stroke="#2a2a2a" stroke-width="0.6"/>
<line x1="136.90" y1="256.50" x2="136.90" y2="258.00" stroke="#2a2a2a" stroke-width="0.6"/>
<line x1="138.70" y1="256.50" x2="138.70" y2="258.00" stroke="#2a2a2a" stroke-width="0.6"/>
<line x1="140.50" y1="256.50" x2="140.50" y2="258.00" stroke="#2a2a2a" stroke-width="0.6"/>
<line x1="142.30" y1="256.50" x2="142.30" y2="258.00" stroke="#2a2a2a" stroke-width="0.6"/>
<line x1="144.10" y1="256.50" x2="144.10" y2="258.00" stroke="#2a2a2a" stroke-width="0.6"/>
<line x1="145.90" y1="256.50" x2="145.90" y2="259.40" stroke="#2a2a2a" stroke-width="0.8"/>
<text x="145.90" y="267.80" font-size="6.0" text-anchor="middle" fill="#333" stroke="#333" stroke-width="0.12">600</text>
<text x="40.40" y="227.50" font-size="6.5" text-anchor="middle" fill="#222" stroke="#222" stroke-width="0.12" font-weight="bold" transform="rotate(-90 40.40 227.50)" textLength="33" lengthAdjust="spacingAndGlyphs">HDL NP (nM)</text>
<text x="103.00" y="279.90" font-size="7.1" text-anchor="middle" fill="#222" stroke="#222" stroke-width="0.12" font-weight="bold" textLength="40" lengthAdjust="spacingAndGlyphs">Cytarabine (nM)</text>
<line x1="137.70" y1="200.90" x2="148.80" y2="200.90" stroke="#1f3a6e" stroke-width="0.9"/>
<circle cx="143.30" cy="200.90" r="1.9" fill="#1f3a6e"/>
<text x="152.10" y="203.10" font-size="6.0" text-anchor="start" fill="#1a1a1a" stroke="#1a1a1a" stroke-width="0.12" textLength="15.0" lengthAdjust="spacingAndGlyphs">ED50</text>
<line x1="137.70" y1="210.20" x2="148.80" y2="210.20" stroke="#3f9f4a" stroke-width="0.9"/>
<path d="M141.20 211.80L143.30 208.20L145.40 211.80Z" fill="#3f9f4a" stroke="none" stroke-width="1"/>
<text x="152.10" y="212.40" font-size="6.0" text-anchor="start" fill="#1a1a1a" stroke="#1a1a1a" stroke-width="0.12" textLength="15.0" lengthAdjust="spacingAndGlyphs">ED75</text>
<line x1="137.70" y1="219.50" x2="148.80" y2="219.50" stroke="#c8143c" stroke-width="0.9"/>
<rect x="141.40" y="217.60" width="3.80" height="3.80" fill="#c8143c"/>
<text x="152.10" y="221.70" font-size="6.0" text-anchor="start" fill="#1a1a1a" stroke="#1a1a1a" stroke-width="0.12" textLength="15.0" lengthAdjust="spacingAndGlyphs">ED90</text>
<line x1="137.70" y1="228.80" x2="148.80" y2="228.80" stroke="#2d2545" stroke-width="0.9"/>
<path d="M141.30 228.80L143.30 226.80L145.30 228.80L143.30 230.80Z" fill="#2d2545" stroke="none" stroke-width="1"/>
<text x="152.10" y="231.00" font-size="6.0" text-anchor="start" fill="#1a1a1a" stroke="#1a1a1a" stroke-width="0.12" textLength="15.0" lengthAdjust="spacingAndGlyphs">ED95</text>
<line x1="235.50" y1="233.88" x2="241.80" y2="256.50" stroke="#3f62a0" stroke-width="0.75"/>
<line x1="235.50" y1="226.34" x2="250.49" y2="256.50" stroke="#6fb86f" stroke-width="0.75"/>
<line x1="235.50" y1="214.74" x2="271.56" y2="256.50" stroke="#cc3646" stroke-width="0.75"/>
<line x1="235.50" y1="207.20" x2="300.67" y2="256.50" stroke="#6a5480" stroke-width="0.75"/>
<circle cx="235.30" cy="252.20" r="1.1" fill="#cc3646"/>
<circle cx="235.60" cy="250.50" r="1.1" fill="#6a5480"/>
<rect x="234.00" y="213.70" width="2.60" height="2.60" fill="#cc3646"/>
<line x1="235.50" y1="197.00" x2="235.50" y2="257.00" stroke="#2a2a2a" stroke-width="1.0"/>
<line x1="235.00" y1="256.50" x2="324.20" y2="256.50" stroke="#2a2a2a" stroke-width="1.0"/>
<line x1="232.70" y1="256.50" x2="235.50" y2="256.50" stroke="#2a2a2a" stroke-width="0.9"/>
<text x="230.00" y="258.60" font-size="6.0" text-anchor="end" fill="#333" stroke="#333" stroke-width="0.12">0</text>
<line x1="232.70" y1="242.00" x2="235.50" y2="242.00" stroke="#2a2a2a" stroke-width="0.9"/>
<text x="230.00" y="244.10" font-size="6.0" text-anchor="end" fill="#333" stroke="#333" stroke-width="0.12">5</text>
<line x1="232.70" y1="227.50" x2="235.50" y2="227.50" stroke="#2a2a2a" stroke-width="0.9"/>
<text x="230.00" y="229.60" font-size="6.0" text-anchor="end" fill="#333" stroke="#333" stroke-width="0.12">10</text>
<line x1="232.70" y1="213.00" x2="235.50" y2="213.00" stroke="#2a2a2a" stroke-width="0.9"/>
<text x="230.00" y="215.10" font-size="6.0" text-anchor="end" fill="#333" stroke="#333" stroke-width="0.12">15</text>
<line x1="232.70" y1="198.50" x2="235.50" y2="198.50" stroke="#2a2a2a" stroke-width="0.9"/>
<text x="230.00" y="200.60" font-size="6.0" text-anchor="end" fill="#333" stroke="#333" stroke-width="0.12">20</text>
<line x1="235.50" y1="256.50" x2="235.50" y2="259.40" stroke="#2a2a2a" stroke-width="0.8"/>
<text x="235.50" y="267.80" font-size="6.0" text-anchor="middle" fill="#333" stroke="#333" stroke-width="0.12">0</text>
<line x1="257.23" y1="256.50" x2="257.23" y2="259.40" stroke="#2a2a2a" stroke-width="0.8"/>
<text x="257.23" y="267.80" font-size="6.0" text-anchor="middle" fill="#333" stroke="#333" stroke-width="0.12">100</text>
<line x1="278.95" y1="256.50" x2="278.95" y2="259.40" stroke="#2a2a2a" stroke-width="0.8"/>
<text x="278.95" y="267.80" font-size="6.0" text-anchor="middle" fill="#333" stroke="#333" stroke-width="0.12">200</text>
<line x1="300.67" y1="256.50" x2="300.67" y2="259.40" stroke="#2a2a2a" stroke-width="0.8"/>
<text x="300.67" y="267.80" font-size="6.0" text-anchor="middle" fill="#333" stroke="#333" stroke-width="0.12">300</text>
<line x1="322.40" y1="256.50" x2="322.40" y2="259.40" stroke="#2a2a2a" stroke-width="0.8"/>
<text x="322.40" y="267.80" font-size="6.0" text-anchor="middle" fill="#333" stroke="#333" stroke-width="0.12">400</text>
<text x="215.40" y="227.50" font-size="6.5" text-anchor="middle" fill="#222" stroke="#222" stroke-width="0.12" font-weight="bold" transform="rotate(-90 215.40 227.50)" textLength="33" lengthAdjust="spacingAndGlyphs">HDL NP (nM)</text>
<text x="278.00" y="279.90" font-size="7.1" text-anchor="middle" fill="#222" stroke="#222" stroke-width="0.12" font-weight="bold" textLength="40" lengthAdjust="spacingAndGlyphs">Venetoclax (nM)</text>
<line x1="313.40" y1="200.90" x2="324.50" y2="200.90" stroke="#1f3a6e" stroke-width="0.9"/>
<circle cx="319.00" cy="200.90" r="1.9" fill="#1f3a6e"/>
<text x="327.80" y="203.10" font-size="6.0" text-anchor="start" fill="#1a1a1a" stroke="#1a1a1a" stroke-width="0.12" textLength="15.0" lengthAdjust="spacingAndGlyphs">ED50</text>
<line x1="313.40" y1="210.20" x2="324.50" y2="210.20" stroke="#3f9f4a" stroke-width="0.9"/>
<path d="M316.90 211.80L319.00 208.20L321.10 211.80Z" fill="#3f9f4a" stroke="none" stroke-width="1"/>
<text x="327.80" y="212.40" font-size="6.0" text-anchor="start" fill="#1a1a1a" stroke="#1a1a1a" stroke-width="0.12" textLength="15.0" lengthAdjust="spacingAndGlyphs">ED75</text>
<line x1="313.40" y1="219.50" x2="324.50" y2="219.50" stroke="#c8143c" stroke-width="0.9"/>
<rect x="317.10" y="217.60" width="3.80" height="3.80" fill="#c8143c"/>
<text x="327.80" y="221.70" font-size="6.0" text-anchor="start" fill="#1a1a1a" stroke="#1a1a1a" stroke-width="0.12" textLength="15.0" lengthAdjust="spacingAndGlyphs">ED90</text>
<line x1="313.40" y1="228.80" x2="324.50" y2="228.80" stroke="#2d2545" stroke-width="0.9"/>
<path d="M317.00 228.80L319.00 226.80L321.00 228.80L319.00 230.80Z" fill="#2d2545" stroke="none" stroke-width="1"/>
<text x="327.80" y="231.00" font-size="6.0" text-anchor="start" fill="#1a1a1a" stroke="#1a1a1a" stroke-width="0.12" textLength="15.0" lengthAdjust="spacingAndGlyphs">ED95</text>
<line x1="405.50" y1="219.83" x2="422.41" y2="256.50" stroke="#3f62a0" stroke-width="0.75"/>
<line x1="405.50" y1="215.20" x2="432.38" y2="256.50" stroke="#6fb86f" stroke-width="0.75"/>
<line x1="405.50" y1="209.41" x2="448.85" y2="256.50" stroke="#cc3646" stroke-width="0.75"/>
<line x1="405.50" y1="207.09" x2="467.06" y2="256.50" stroke="#6a5480" stroke-width="0.75"/>
<circle cx="415.00" cy="248.10" r="1.1" fill="#3f62a0"/>
<circle cx="417.60" cy="245.80" r="1.1" fill="#3f62a0"/>
<circle cx="424.80" cy="239.60" r="1.1" fill="#6a5480"/>
<rect x="404.30" y="208.20" width="2.60" height="2.60" fill="#cc3646"/>
<rect x="420.80" y="241.00" width="2.60" height="2.60" fill="#cc3646"/>
<rect x="447.70" y="255.40" width="2.60" height="2.60" fill="#cc3646"/>
<line x1="405.50" y1="197.10" x2="405.50" y2="257.00" stroke="#2a2a2a" stroke-width="1.0"/>
<line x1="405.00" y1="256.50" x2="494.20" y2="256.50" stroke="#2a2a2a" stroke-width="1.0"/>
<line x1="402.70" y1="256.50" x2="405.50" y2="256.50" stroke="#2a2a2a" stroke-width="0.9"/>
<text x="400.00" y="258.60" font-size="6.0" text-anchor="end" fill="#333" stroke="#333" stroke-width="0.12">0</text>
<line x1="402.70" y1="237.20" x2="405.50" y2="237.20" stroke="#2a2a2a" stroke-width="0.9"/>
<text x="400.00" y="239.30" font-size="6.0" text-anchor="end" fill="#333" stroke="#333" stroke-width="0.12">5</text>
<line x1="402.70" y1="217.90" x2="405.50" y2="217.90" stroke="#2a2a2a" stroke-width="0.9"/>
<text x="400.00" y="220.00" font-size="6.0" text-anchor="end" fill="#333" stroke="#333" stroke-width="0.12">10</text>
<line x1="402.70" y1="198.60" x2="405.50" y2="198.60" stroke="#2a2a2a" stroke-width="0.9"/>
<text x="400.00" y="200.70" font-size="6.0" text-anchor="end" fill="#333" stroke="#333" stroke-width="0.12">15</text>
<line x1="405.50" y1="256.50" x2="405.50" y2="259.40" stroke="#2a2a2a" stroke-width="0.8"/>
<text x="405.50" y="267.80" font-size="6.0" text-anchor="middle" fill="#333" stroke="#333" stroke-width="0.12">0</text>
<line x1="427.18" y1="256.50" x2="427.18" y2="259.40" stroke="#2a2a2a" stroke-width="0.8"/>
<text x="427.18" y="267.80" font-size="6.0" text-anchor="middle" fill="#333" stroke="#333" stroke-width="0.12">5</text>
<line x1="448.85" y1="256.50" x2="448.85" y2="259.40" stroke="#2a2a2a" stroke-width="0.8"/>
<text x="448.85" y="267.80" font-size="6.0" text-anchor="middle" fill="#333" stroke="#333" stroke-width="0.12">10</text>
<line x1="470.52" y1="256.50" x2="470.52" y2="259.40" stroke="#2a2a2a" stroke-width="0.8"/>
<text x="470.52" y="267.80" font-size="6.0" text-anchor="middle" fill="#333" stroke="#333" stroke-width="0.12">15</text>
<line x1="492.20" y1="256.50" x2="492.20" y2="259.40" stroke="#2a2a2a" stroke-width="0.8"/>
<text x="492.20" y="267.80" font-size="6.0" text-anchor="middle" fill="#333" stroke="#333" stroke-width="0.12">20</text>
<text x="386.40" y="227.50" font-size="6.5" text-anchor="middle" fill="#222" stroke="#222" stroke-width="0.12" font-weight="bold" transform="rotate(-90 386.40 227.50)" textLength="33" lengthAdjust="spacingAndGlyphs">HDL NP (nM)</text>
<text x="448.70" y="279.90" font-size="7.1" text-anchor="middle" fill="#222" stroke="#222" stroke-width="0.12" font-weight="bold" textLength="40" lengthAdjust="spacingAndGlyphs">Venetoclax (nM)</text>
<line x1="484.40" y1="200.90" x2="495.50" y2="200.90" stroke="#1f3a6e" stroke-width="0.9"/>
<circle cx="490.00" cy="200.90" r="1.9" fill="#1f3a6e"/>
<text x="498.80" y="203.10" font-size="6.0" text-anchor="start" fill="#1a1a1a" stroke="#1a1a1a" stroke-width="0.12" textLength="15.0" lengthAdjust="spacingAndGlyphs">ED50</text>
<line x1="484.40" y1="210.20" x2="495.50" y2="210.20" stroke="#3f9f4a" stroke-width="0.9"/>
<path d="M487.90 211.80L490.00 208.20L492.10 211.80Z" fill="#3f9f4a" stroke="none" stroke-width="1"/>
<text x="498.80" y="212.40" font-size="6.0" text-anchor="start" fill="#1a1a1a" stroke="#1a1a1a" stroke-width="0.12" textLength="15.0" lengthAdjust="spacingAndGlyphs">ED75</text>
<line x1="484.40" y1="219.50" x2="495.50" y2="219.50" stroke="#c8143c" stroke-width="0.9"/>
<rect x="488.10" y="217.60" width="3.80" height="3.80" fill="#c8143c"/>
<text x="498.80" y="221.70" font-size="6.0" text-anchor="start" fill="#1a1a1a" stroke="#1a1a1a" stroke-width="0.12" textLength="15.0" lengthAdjust="spacingAndGlyphs">ED90</text>
<line x1="484.40" y1="228.80" x2="495.50" y2="228.80" stroke="#2d2545" stroke-width="0.9"/>
<path d="M488.00 228.80L490.00 226.80L492.00 228.80L490.00 230.80Z" fill="#2d2545" stroke="none" stroke-width="1"/>
<text x="498.80" y="231.00" font-size="6.0" text-anchor="start" fill="#1a1a1a" stroke="#1a1a1a" stroke-width="0.12" textLength="15.0" lengthAdjust="spacingAndGlyphs">ED95</text>
<rect x="34.50" y="288.5" width="133.00" height="29.00" fill="none" stroke="#333" stroke-width="1"/>
<line x1="34.50" y1="302.50" x2="167.50" y2="302.50" stroke="#333" stroke-width="1.0"/>
<line x1="61.50" y1="288.50" x2="61.50" y2="317.50" stroke="#333" stroke-width="1.0"/>
<line x1="87.50" y1="288.50" x2="87.50" y2="317.50" stroke="#333" stroke-width="1.0"/>
<line x1="114.50" y1="288.50" x2="114.50" y2="317.50" stroke="#333" stroke-width="1.0"/>
<line x1="140.50" y1="288.50" x2="140.50" y2="317.50" stroke="#333" stroke-width="1.0"/>
<text x="48.00" y="312.90" font-size="6.2" text-anchor="middle" fill="#111" font-weight="bold">CI</text>
<text x="74.50" y="297.80" font-size="6.0" text-anchor="middle" fill="#111" font-weight="bold">ED50</text>
<text x="74.50" y="312.90" font-size="6.1" text-anchor="middle" fill="#4a4a4a" stroke="#4a4a4a" stroke-width="0.12" textLength="22.0" lengthAdjust="spacingAndGlyphs">0.59568</text>
<text x="101.00" y="297.80" font-size="6.0" text-anchor="middle" fill="#111" font-weight="bold">ED75</text>
<text x="101.00" y="312.90" font-size="6.1" text-anchor="middle" fill="#4a4a4a" stroke="#4a4a4a" stroke-width="0.12" textLength="22.0" lengthAdjust="spacingAndGlyphs">0.51785</text>
<text x="127.50" y="297.80" font-size="6.0" text-anchor="middle" fill="#111" font-weight="bold">ED90</text>
<text x="127.50" y="312.90" font-size="6.1" text-anchor="middle" fill="#4a4a4a" stroke="#4a4a4a" stroke-width="0.12" textLength="22.0" lengthAdjust="spacingAndGlyphs">0.47419</text>
<text x="154.00" y="297.80" font-size="6.0" text-anchor="middle" fill="#111" font-weight="bold">ED95</text>
<text x="154.00" y="312.90" font-size="6.1" text-anchor="middle" fill="#4a4a4a" stroke="#4a4a4a" stroke-width="0.12" textLength="22.0" lengthAdjust="spacingAndGlyphs">0.45797</text>
<rect x="210.50" y="288.5" width="133.00" height="29.00" fill="none" stroke="#333" stroke-width="1"/>
<line x1="210.50" y1="302.50" x2="343.50" y2="302.50" stroke="#333" stroke-width="1.0"/>
<line x1="237.50" y1="288.50" x2="237.50" y2="317.50" stroke="#333" stroke-width="1.0"/>
<line x1="263.50" y1="288.50" x2="263.50" y2="317.50" stroke="#333" stroke-width="1.0"/>
<line x1="289.50" y1="288.50" x2="289.50" y2="317.50" stroke="#333" stroke-width="1.0"/>
<line x1="316.50" y1="288.50" x2="316.50" y2="317.50" stroke="#333" stroke-width="1.0"/>
<text x="224.00" y="312.90" font-size="6.2" text-anchor="middle" fill="#111" font-weight="bold">CI</text>
<text x="250.50" y="297.80" font-size="6.0" text-anchor="middle" fill="#111" font-weight="bold">ED50</text>
<text x="250.50" y="312.90" font-size="6.1" text-anchor="middle" fill="#4a4a4a" stroke="#4a4a4a" stroke-width="0.12" textLength="22.0" lengthAdjust="spacingAndGlyphs">0.10730</text>
<text x="276.50" y="297.80" font-size="6.0" text-anchor="middle" fill="#111" font-weight="bold">ED75</text>
<text x="276.50" y="312.90" font-size="6.1" text-anchor="middle" fill="#4a4a4a" stroke="#4a4a4a" stroke-width="0.12" textLength="22.0" lengthAdjust="spacingAndGlyphs">0.10287</text>
<text x="303.00" y="297.80" font-size="6.0" text-anchor="middle" fill="#111" font-weight="bold">ED90</text>
<text x="303.00" y="312.90" font-size="6.1" text-anchor="middle" fill="#4a4a4a" stroke="#4a4a4a" stroke-width="0.12" textLength="22.0" lengthAdjust="spacingAndGlyphs">0.10388</text>
<text x="330.00" y="297.80" font-size="6.0" text-anchor="middle" fill="#111" font-weight="bold">ED95</text>
<text x="330.00" y="312.90" font-size="6.1" text-anchor="middle" fill="#4a4a4a" stroke="#4a4a4a" stroke-width="0.12" textLength="22.0" lengthAdjust="spacingAndGlyphs">0.10682</text>
<rect x="380.50" y="288.5" width="133.00" height="29.00" fill="none" stroke="#333" stroke-width="1"/>
<line x1="380.50" y1="302.50" x2="513.50" y2="302.50" stroke="#333" stroke-width="1.0"/>
<line x1="407.50" y1="288.50" x2="407.50" y2="317.50" stroke="#333" stroke-width="1.0"/>
<line x1="433.50" y1="288.50" x2="433.50" y2="317.50" stroke="#333" stroke-width="1.0"/>
<line x1="459.50" y1="288.50" x2="459.50" y2="317.50" stroke="#333" stroke-width="1.0"/>
<line x1="486.50" y1="288.50" x2="486.50" y2="317.50" stroke="#333" stroke-width="1.0"/>
<text x="394.00" y="312.90" font-size="6.2" text-anchor="middle" fill="#111" font-weight="bold">CI</text>
<text x="420.50" y="297.80" font-size="6.0" text-anchor="middle" fill="#111" font-weight="bold">ED50</text>
<text x="420.50" y="312.90" font-size="6.1" text-anchor="middle" fill="#4a4a4a" stroke="#4a4a4a" stroke-width="0.12" textLength="22.0" lengthAdjust="spacingAndGlyphs">0.81613</text>
<text x="446.50" y="297.80" font-size="6.0" text-anchor="middle" fill="#111" font-weight="bold">ED75</text>
<text x="446.50" y="312.90" font-size="6.1" text-anchor="middle" fill="#4a4a4a" stroke="#4a4a4a" stroke-width="0.12" textLength="22.0" lengthAdjust="spacingAndGlyphs">0.72569</text>
<text x="473.00" y="297.80" font-size="6.0" text-anchor="middle" fill="#111" font-weight="bold">ED90</text>
<text x="473.00" y="312.90" font-size="6.1" text-anchor="middle" fill="#4a4a4a" stroke="#4a4a4a" stroke-width="0.12" textLength="22.0" lengthAdjust="spacingAndGlyphs">0.66728</text>
<text x="500.00" y="297.80" font-size="6.0" text-anchor="middle" fill="#111" font-weight="bold">ED95</text>
<text x="500.00" y="312.90" font-size="6.1" text-anchor="middle" fill="#4a4a4a" stroke="#4a4a4a" stroke-width="0.12" textLength="22.0" lengthAdjust="spacingAndGlyphs">0.64328</text>
<rect x="0.5" y="0.5" width="519" height="323" fill="none" stroke="#606060" stroke-width="1"/>
</svg>
</body></html>
